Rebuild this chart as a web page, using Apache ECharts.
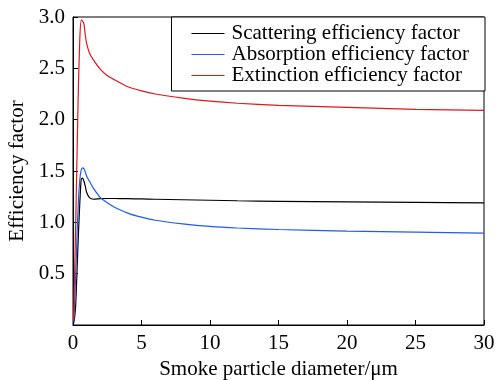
<!DOCTYPE html>
<html>
<head>
<meta charset="utf-8">
<script src="https://cdn.jsdelivr.net/npm/echarts@6/dist/echarts.min.js"></script>
<style>
  html, body { margin: 0; padding: 0; background: #fff; }
  #chart { width: 497px; height: 380px; }
</style>
</head>
<body>
<div id="chart"></div>
<script>
// particle diameter (μm)
var diameter = [0.05, 0.1, 0.2, 0.3, 0.4, 0.5, 0.6, 0.7, 0.8, 0.9, 1.0, 1.2, 1.5, 2, 2.5, 3, 4, 5, 6, 8, 10, 12, 15, 20, 25, 30]
// scattering efficiency factor
var scattering = [0.02, 0.05, 0.2, 0.55, 0.9, 1.2, 1.42, 1.43, 1.4, 1.35, 1.29, 1.24, 1.225, 1.23, 1.232, 1.232, 1.23, 1.228, 1.225, 1.22, 1.215, 1.21, 1.205, 1.2, 1.195, 1.19]
// absorption efficiency factor
var absorption = [0.03, 0.15, 0.5, 0.9, 1.22, 1.42, 1.51, 1.53, 1.52, 1.49, 1.45, 1.4, 1.33, 1.24, 1.19, 1.15, 1.09, 1.05, 1.02, 0.985, 0.96, 0.945, 0.93, 0.915, 0.905, 0.895]
// extinction efficiency factor
var extinction = [0.05, 0.4, 1.0, 1.7, 2.35, 2.8, 2.97, 2.96, 2.93, 2.82, 2.74, 2.65, 2.58, 2.49, 2.43, 2.39, 2.32, 2.28, 2.25, 2.21, 2.18, 2.16, 2.14, 2.12, 2.1, 2.09]

var seriesNames = ['Scattering efficiency factor', 'Absorption efficiency factor', 'Extinction efficiency factor']
var seriesColors = ['#000000', '#1e5bf0', '#e8141c']

function pairs(ys) {
  return diameter.map(function(x, i) { return [x, ys[i]] })
}

var font = 'Liberation Serif'
var fs = 21
var labelStyle = { fontFamily: font, fontSize: fs, color: '#000' }
var chart = echarts.init(document.getElementById('chart'))

chart.setOption({
  animation: false,
  backgroundColor: '#fff',
  textStyle: { fontFamily: font, fontSize: fs },
  grid: {
    left: 73, right: 13, top: 17, bottom: 55,
    outerBoundsMode: 'none',
    containLabel: false,
    show: true, borderColor: '#000', borderWidth: 1
  },
  legend: {
    orient: 'vertical',
    right: 12,
    top: 17,
    backgroundColor: '#fff',
    borderColor: '#000',
    borderWidth: 1,
    padding: [6, 16, 5, 20],
    itemGap: 0,
    itemWidth: 33,
    itemHeight: 20,
    icon: 'path://M0,0 L33,0 L33,1 L0,1 Z',
    textStyle: { fontFamily: font, fontSize: fs, lineHeight: 21, color: '#000', padding: [0, 0, 0, 2] },
    data: seriesNames
  },
  xAxis: {
    type: 'value',
    min: 0, max: 30, interval: 5,
    name: 'Smoke particle diameter/μm',
    nameLocation: 'middle',
    nameGap: 33,
    nameTextStyle: labelStyle,
    axisLine: { lineStyle: { color: '#000', width: 1 } },
    axisTick: { inside: true, length: 5, lineStyle: { color: '#000' } },
    axisLabel: {
      margin: 8,
      formatter: function(v) { return '{t|' + v + '}' },
      rich: { t: labelStyle }
    },
    splitLine: { show: false }
  },
  yAxis: {
    type: 'value',
    min: 0, max: 3, interval: 0.5,
    name: 'Efficiency factor',
    nameLocation: 'middle',
    nameGap: 37,
    nameTextStyle: labelStyle,
    axisLine: { show: true, lineStyle: { color: '#000', width: 1 } },
    axisTick: { inside: true, length: 5, lineStyle: { color: '#000' } },
    axisLabel: {
      margin: 8,
      showMinLabel: false,
      formatter: function(v) { return '{t|' + v.toFixed(1) + '}' },
      rich: { t: labelStyle }
    },
    splitLine: { show: false }
  },
  series: [scattering, absorption, extinction].map(function(ys, i) {
    return {
      name: seriesNames[i],
      type: 'line',
      data: pairs(ys),
      showSymbol: false,
      symbol: 'none',
      smooth: 0.2,
      color: seriesColors[i],
      lineStyle: { color: seriesColors[i], width: 1.2 }
    }
  })
})
</script>
</body>
</html>
